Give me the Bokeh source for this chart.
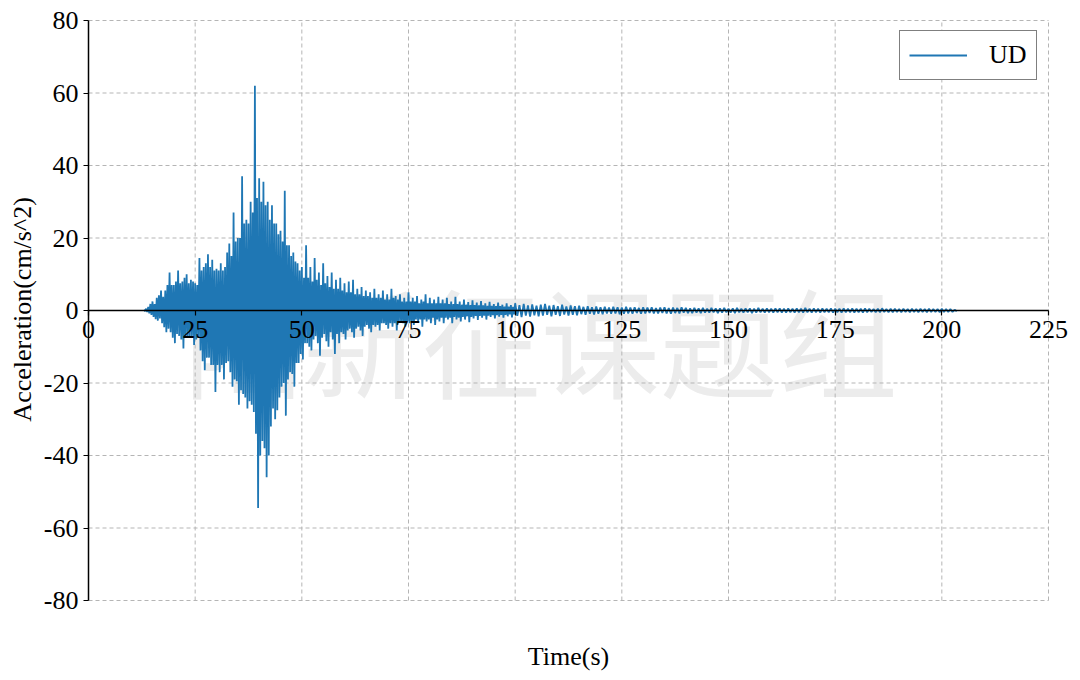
import math
from bokeh.plotting import figure
from bokeh.models import FixedTicker
from bokeh.core.properties import value
from bokeh.embed import file_html
from bokeh.resources import INLINE

# ---------------- data ----------------
# strong-motion part: one positive and one negative peak per half second, 13.0 s ... 99.5 s
t_strong = [13.0 + 0.5 * i for i in range(174)]
pos_strong = [
    0.2, 0.5, 1.0, 1.8, 2.5, 1.8, 3.5, 4.2, 5.5, 3.8,
    5.5, 7.0, 10.5, 7.0, 7.0, 8.0, 11.0, 7.5, 8.0, 9.0,
    10.0, 7.5, 8.5, 8.0, 7.5, 7.0, 14.5, 11.0, 12.0, 13.0,
    15.5, 12.0, 14.0, 11.0, 11.5, 11.0, 13.0, 11.0, 12.0, 16.0,
    18.5, 15.0, 27.0, 19.0, 20.0, 20.0, 37.0, 24.0, 25.0, 24.0,
    30.0, 27.0, 62.0, 31.0, 36.5, 30.0, 35.5, 29.0, 30.0, 25.0,
    29.0, 24.0, 24.0, 21.0, 22.0, 19.0, 33.0, 18.0, 18.0, 15.0,
    16.0, 13.5, 13.0, 11.0, 12.0, 9.0, 18.0, 9.0, 12.0, 8.0,
    14.5, 8.5, 10.5, 7.0, 13.0, 7.5, 9.5, 6.5, 10.5, 6.0,
    8.5, 6.0, 9.0, 5.5, 7.5, 5.0, 8.0, 5.0, 8.5, 4.5,
    6.0, 4.5, 6.5, 4.0, 5.5, 4.0, 5.0, 3.5, 6.0, 3.5,
    4.5, 3.5, 5.5, 3.0, 4.5, 3.0, 6.0, 3.5, 4.0, 3.0,
    4.5, 2.5, 3.5, 2.5, 5.0, 2.5, 3.5, 2.5, 4.0, 2.0,
    3.0, 2.5, 4.5, 2.0, 3.5, 2.0, 3.0, 2.0, 3.8, 2.0,
    3.0, 2.0, 3.5, 1.8, 2.5, 1.8, 3.8, 1.8, 2.5, 1.6,
    3.0, 1.6, 2.3, 1.5, 2.8, 1.5, 2.2, 1.4, 2.6, 1.4,
    2.0, 1.3, 2.4, 1.3, 1.8, 1.2, 2.2, 1.2, 1.6, 1.1,
    2.0, 1.1, 1.5, 1.0,
]
neg_strong = [
    -0.2, -0.4, -0.8, -1.2, -1.8, -2.4, -2.8, -2.2, -3.5, -4.6,
    -6.0, -5.0, -6.0, -7.5, -9.0, -6.5, -7.0, -8.0, -10.5, -7.5,
    -7.5, -7.5, -7.0, -9.5, -8.0, -7.5, -11.0, -14.0, -16.5, -13.0,
    -13.0, -15.0, -15.0, -22.5, -15.0, -17.0, -15.0, -19.0, -14.5, -14.0,
    -17.0, -21.0, -19.0, -19.5, -26.0, -22.0, -23.0, -24.0, -27.0, -25.0,
    -26.0, -28.0, -34.0, -54.5, -40.0, -36.0, -38.0, -46.0, -40.0, -32.0,
    -27.0, -30.0, -27.5, -24.0, -21.0, -20.0, -29.0, -19.0, -17.0, -17.5,
    -21.0, -14.5, -14.5, -12.0, -13.5, -9.0, -9.0, -10.0, -11.0, -8.0,
    -7.0, -9.0, -12.5, -7.5, -6.5, -8.5, -10.0, -6.0, -8.0, -12.0,
    -6.5, -9.0, -6.0, -6.5, -8.0, -5.5, -5.0, -6.0, -7.5, -5.0,
    -4.5, -5.5, -7.0, -4.5, -4.0, -5.0, -6.0, -4.0, -4.5, -4.0,
    -5.5, -3.5, -3.5, -4.0, -5.0, -3.5, -4.5, -3.5, -5.5, -3.0,
    -3.0, -3.5, -4.5, -3.0, -3.5, -3.0, -4.0, -2.5, -3.0, -2.5,
    -4.5, -2.5, -3.0, -2.5, -3.5, -2.0, -4.0, -2.5, -3.0, -2.0,
    -3.5, -2.0, -2.5, -2.0, -3.5, -1.8, -2.5, -2.0, -3.0, -1.8,
    -2.5, -1.6, -3.2, -1.8, -2.2, -1.5, -2.6, -1.5, -2.0, -1.4,
    -2.5, -1.4, -1.8, -1.3, -2.2, -1.3, -1.7, -1.2, -2.0, -1.2,
    -1.6, -1.1, -1.9, -1.1,
]

# coda: one positive and one negative peak per second, 100 s ... 203 s
t_coda = list(range(100, 204))
pos_coda = [
    2.0, 1.5, 1.8,
    1.4, 1.7, 1.3, 1.6, 1.8, 1.3, 1.5, 1.2, 1.6, 1.1,
    1.4, 1.2, 1.3, 1.0, 1.2, 0.9, 1.1, 0.9, 1.0, 0.8,
    1.0, 0.9, 0.8, 1.0, 0.8, 0.9, 0.7, 0.9, 0.8, 0.9,
    0.7, 0.8, 0.9, 0.7, 0.8, 0.7, 0.9, 0.7, 0.6, 0.7,
    0.6, 0.7, 0.5, 0.7, 0.6, 0.6, 0.7, 0.5, 0.6, 0.7,
    0.5, 0.6, 0.6, 0.5, 0.7, 0.5, 0.6, 0.5, 0.6, 0.6,
    0.5, 0.6, 0.5, 0.6, 0.5, 0.7, 0.5, 0.6, 0.5, 0.6,
    0.5, 0.6, 0.5, 0.5, 0.6, 0.5, 0.6, 0.5, 0.5, 0.6,
    0.5, 0.4, 0.5, 0.6, 0.4, 0.5, 0.5, 0.4, 0.5, 0.4,
    0.5, 0.4, 0.5, 0.4, 0.5, 0.4, 0.4, 0.5, 0.4, 0.4,
    0.2,
]
neg_coda = [
    -1.5, -1.8, -1.4,
    -1.7, -1.3, -1.6, -1.4, -1.2, -1.6, -1.2, -1.5, -1.1, -1.4,
    -1.2, -1.3, -1.0, -1.2, -0.9, -1.1, -0.9, -1.0, -0.8, -0.9,
    -0.8, -1.0, -0.9, -0.8, -0.9, -0.7, -0.9, -0.8, -0.7, -0.8,
    -0.8, -0.7, -0.8, -0.9, -0.7, -0.8, -0.6, -0.7, -0.7, -0.6,
    -0.7, -0.6, -0.6, -0.5, -0.7, -0.6, -0.5, -0.6, -0.7, -0.5,
    -0.6, -0.5, -0.7, -0.6, -0.5, -0.6, -0.5, -0.6, -0.5, -0.6,
    -0.6, -0.5, -0.6, -0.5, -0.6, -0.5, -0.6, -0.5, -0.6, -0.5,
    -0.5, -0.6, -0.5, -0.6, -0.5, -0.5, -0.6, -0.5, -0.6, -0.5,
    -0.4, -0.5, -0.5, -0.4, -0.5, -0.5, -0.4, -0.5, -0.4, -0.5,
    -0.4, -0.5, -0.4, -0.5, -0.4, -0.4, -0.5, -0.4, -0.4, -0.4,
    -0.2,
]

x_ticks = [0, 25, 50, 75, 100, 125, 150, 175, 200, 225]
x_tick_labels = ["0", "25", "50", "75", "100", "125", "150", "175", "200", "225"]
y_ticks = [-80, -60, -40, -20, 0, 20, 40, 60, 80]
y_tick_labels = ["-80", "-60", "-40", "-20", "0", "20", "40", "60", "80"]

series_name = "UD"
x_title = "Time(s)"
y_title = "Acceleration(cm/s^2)"
watermark = "陆新征课题组"

# trace: in each slot the positive peak, then the negative peak half a slot later
t_line = []
a_line = []
for times, ups, dns, dt in ((t_strong, pos_strong, neg_strong, 0.5),
                            (t_coda, pos_coda, neg_coda, 1.0)):
    for t, up, dn in zip(times, ups, dns):
        t_line += [t, t + dt / 2]
        a_line += [up, dn]

FONT = "Liberation Serif"
W, H = 1076, 676
# plotting area: x 0..225 spans px 88..1048, y -80..80 spans px 600..20;
# the frame is the whole canvas so that tick labels outside that area are not clipped
XS = 960 / 225.0
YS = 580 / 160.0
x_lo, x_hi = -88 / XS, 225 + (W - 1048) / XS
y_hi, y_lo = 80 + 20 / YS, -80 - (H - 600) / YS

p = figure(frame_width=W, frame_height=H,
           x_range=(x_lo, x_hi), y_range=(y_lo, y_hi),
           output_backend="svg", toolbar_location=None,
           min_border_left=0, min_border_right=0,
           min_border_top=0, min_border_bottom=0)
p.outline_line_color = None
p.background_fill_color = "white"
p.border_fill_color = "white"
p.grid.visible = False

x_min, x_max = min(x_ticks), max(x_ticks)
y_min, y_max = min(y_ticks), max(y_ticks)

# watermark
p.text(x=[106], y=[-7.5], text=[watermark],
       text_font=value("Noto Sans CJK SC"), text_font_size="119px",
       text_color="#ececec", text_align="center", text_baseline="middle")

# dashed grid
GRID = dict(line_color="#b5b5b5", line_dash="4 3", line_width=1)
p.segment(x0=x_ticks, y0=[y_min] * len(x_ticks), x1=x_ticks, y1=[y_max] * len(x_ticks), **GRID)
p.segment(x0=[x_min] * len(y_ticks), y0=y_ticks, x1=[x_max] * len(y_ticks), y1=y_ticks, **GRID)

p.line(t_line, a_line, line_color="#1f77b4", line_width=1.8,
       legend_label=series_name)

# x axis drawn at y = 0
xa = p.below[0]
xa.fixed_location = 0
xa.bounds = (x_min, x_max)
xa.ticker = FixedTicker(ticks=x_ticks)
xa.major_label_overrides = {k: v for k, v in zip(x_ticks, x_tick_labels)}
xa.minor_tick_line_color = None
xa.major_tick_out = 5
xa.major_tick_in = 0
xa.major_label_standoff = 5
xa.axis_line_color = "black"
xa.axis_line_width = 1.5
xa.major_tick_line_color = "black"
xa.major_tick_line_width = 1.2
xa.major_label_text_font = FONT
xa.major_label_text_font_size = "26px"
xa.major_label_text_color = "black"

# y axis drawn at x = 0
ya = p.left[0]
ya.fixed_location = 0
ya.bounds = (y_min, y_max)
ya.ticker = FixedTicker(ticks=y_ticks)
ya.major_label_overrides = {k: v for k, v in zip(y_ticks, y_tick_labels)}
ya.minor_tick_line_color = None
ya.major_tick_out = 5
ya.major_tick_in = 0
ya.major_label_standoff = 5
ya.axis_line_color = "black"
ya.axis_line_width = 1.5
ya.major_tick_line_color = "black"
ya.major_tick_line_width = 1.2
ya.major_label_text_font = FONT
ya.major_label_text_font_size = "26px"
ya.major_label_text_color = "black"

# axis titles
p.text(x=[(x_min + x_max) / 2], y=[-95.4], text=[x_title],
       text_font=value(FONT), text_font_size="26px", text_color="black",
       text_align="center", text_baseline="middle")
p.text(x=[-15.5], y=[0.3], text=[y_title], angle=math.pi / 2,
       text_font=value(FONT), text_font_size="26px", text_color="black",
       text_align="center", text_baseline="middle")

lg = p.legend[0]
lg.location = (899, H - 80)
lg.padding = 9
lg.spacing = 0
lg.glyph_width = 58
lg.label_standoff = 22
lg.border_line_color = "black"
lg.border_line_width = 1.3
lg.background_fill_color = "white"
lg.background_fill_alpha = 1
lg.label_text_font = FONT
lg.label_text_font_size = "26px"
lg.label_text_color = "black"

open("out.html", "w").write(file_html(p, INLINE))
